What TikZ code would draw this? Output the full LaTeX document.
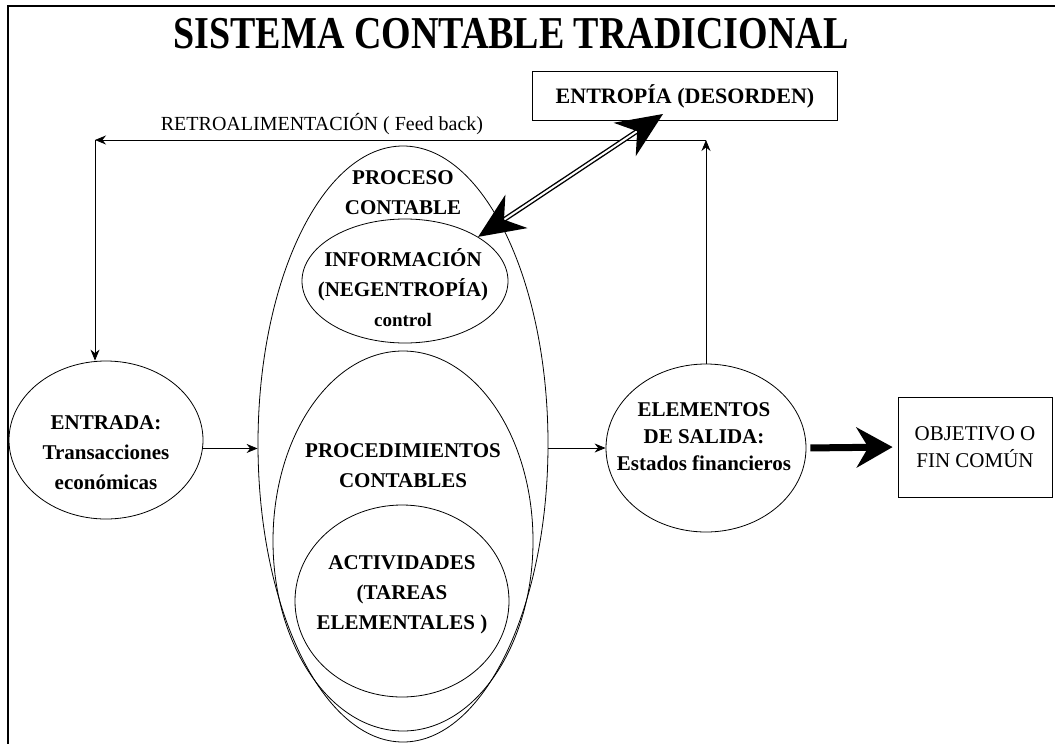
\documentclass[tikz,border=0pt]{standalone}
\usepackage{fontspec}
\setmainfont{Liberation Serif}
\usepackage{graphicx}
\usepackage{tikz}
\usetikzlibrary{shapes.geometric, arrows.meta}

\tikzset{
  elipse/.style={draw, ellipse, line width=0.8pt, inner sep=0pt},
  caja/.style={draw, rectangle, line width=0.8pt, inner sep=0pt},
  texto/.style={align=center, font=\fontsize{21}{30}\selectfont\bfseries},
  flecha/.style={-{Stealth[length=11pt,width=9pt]}, line width=0.8pt},
}

\begin{document}
\begin{tikzpicture}[x=1pt, y=-1pt]
    \useasboundingbox (0,0) rectangle (1055,744);
    % Marco y titulo
    \draw[line width=1.6pt] (8,744) -- (8,6) -- (1055,6);
    \node[font=\fontsize{38}{40}\selectfont\bfseries] (titulo) at (511,34) {\scalebox{1}[1.2]{SISTEMA CONTABLE TRADICIONAL}};

    % Entrada
    \node[elipse, minimum width=194pt, minimum height=158pt] (entrada) at (106,440) {};
    \node[texto] (tentrada) at (106,453) {ENTRADA:\\Transacciones\\económicas};

    % Proceso contable
    \node[elipse, minimum width=290pt, minimum height=596pt] (proceso) at (403,444) {};
    \node[texto] (tproceso) at (403,193) {PROCESO\\CONTABLE};
    \node[elipse, minimum width=206pt, minimum height=124pt] (info) at (405,281) {};
    \node[texto] (tinfo) at (403,288) {INFORMACIÓN\\(NEGENTROPÍA)\\{\fontsize{19}{30}\selectfont control}};
    \node[elipse, minimum width=260pt, minimum height=380pt] (proced) at (403,541) {};
    \node[texto] (tproced) at (403,466) {PROCEDIMIENTOS\\CONTABLES};
    \node[elipse, minimum width=214pt, minimum height=192pt] (activ) at (402,601) {};
    \node[texto] (tactiv) at (402,595) {ACTIVIDADES\\(TAREAS\\ELEMENTALES )};

    % Salida
    \node[elipse, minimum width=200pt, minimum height=168pt] (salida) at (706,448) {};
    \node[texto, font=\fontsize{21}{27}\selectfont\bfseries] (tsalida) at (704,437) {ELEMENTOS\\DE SALIDA:\\Estados financieros};
    \node[caja, minimum width=154pt, minimum height=100pt, align=center,
          font=\fontsize{21}{27}\selectfont] (objetivo) at (975,447) {OBJETIVO O\\FIN COMÚN};

    % Entropia
    \node[caja, minimum width=305pt, minimum height=49pt, font=\fontsize{22}{25}\selectfont\bfseries] (desorden) at (685,96) {ENTROPÍA (DESORDEN)};
    \coordinate (ent) at (663,114);

    % Retroalimentacion
    \coordinate (esq) at (95,140);
    \draw[flecha] (salida.north) -- (salida.north |- esq) coordinate (sube);
    \draw[flecha] (sube) -- (esq);
    \draw[flecha] (esq) -- (esq |- entrada.north);
    \node[font=\fontsize{20}{22}\selectfont] (tretro) at (322,124) {RETROALIMENTACIÓN ( Feed back)};

    % Flujo principal
    \draw[flecha] (entrada.-5) -- (proceso.west |- entrada.-5);
    \draw[flecha] (proceso.east |- salida.west) -- (salida.west);
    \draw[-{Stealth[length=36pt,width=40pt]}, line width=7pt, shorten <=4pt, shorten >=5pt] (salida.east) -- (objetivo.west);
    \draw[{Stealth[length=46pt,width=40pt]}-{Stealth[length=46pt,width=40pt]}, double, double distance=2pt, line width=1.4pt] (info.north east) -- (ent);
\end{tikzpicture}
\end{document}
